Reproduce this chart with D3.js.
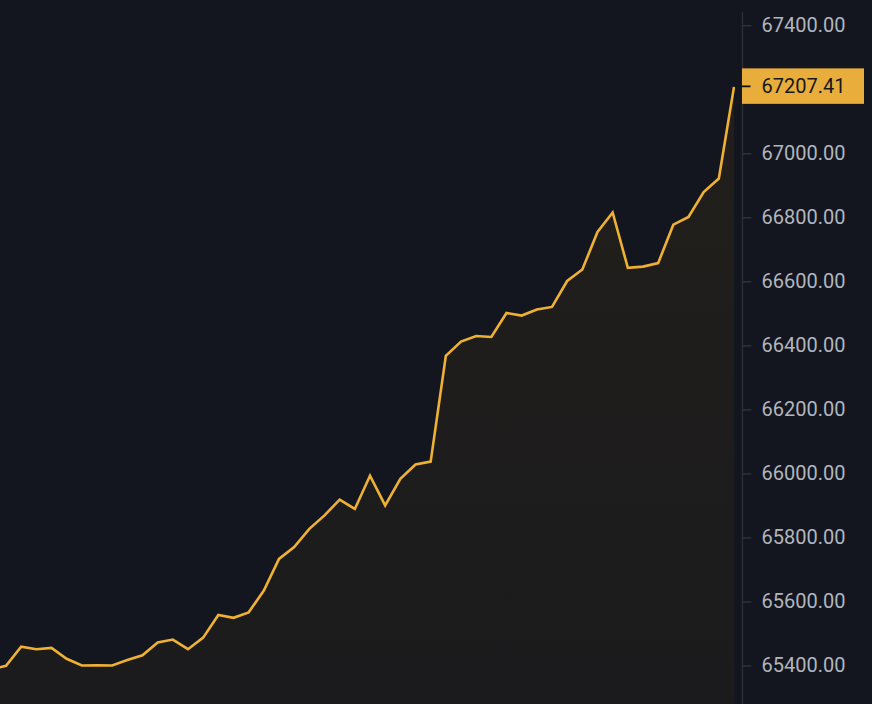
<!DOCTYPE html>
<html>
<head>
<meta charset="utf-8">
<script src="https://cdn.jsdelivr.net/npm/d3@7"></script>
<style>
  html, body { margin: 0; padding: 0; background: #13161f; overflow: hidden; }
  svg { display: block; }
</style>
</head>
<body>
<svg id="chart" width="872" height="704"></svg>
<script>
// Price series (one point per interval)
const prices = [65388, 65399, 65459, 65451, 65455, 65421, 65400, 65401, 65400, 65417,
  65432, 65472, 65481, 65451, 65487, 65558, 65549, 65566, 65634, 65733,
  65770, 65827, 65869, 65918, 65889, 65993, 65900, 65983, 66028, 66037,
  66367, 66412, 66429, 66426, 66501, 66493, 66512, 66520, 66601, 66637,
  66754, 66815, 66642, 66646, 66657, 66777, 66801, 66879, 66921, 67207.41];
const yTicks = [65400, 65600, 65800, 66000, 66200, 66400, 66600, 66800, 67000, 67400];
const lastPrice = 67207.41;

const W = 872, H = 704;
const svg = d3.select("#chart");

const x = d3.scaleLinear().domain([0, prices.length - 1]).range([-9.17, 734]);
const y = d3.scaleLinear().domain([65400, 67400]).range([665.5, 25.2]);

const defs = svg.append("defs");
const grad = defs.append("linearGradient").attr("id", "fillGrad")
  .attr("x1", 0).attr("y1", 0).attr("x2", 0).attr("y2", 1);
grad.append("stop").attr("offset", "0%").attr("stop-color", "#221f1b");
grad.append("stop").attr("offset", "100%").attr("stop-color", "#1b1b1d");
defs.append("clipPath").attr("id", "plotClip")
  .append("rect").attr("x", 0).attr("y", 0).attr("width", 735).attr("height", H);

const plot = svg.append("g").attr("clip-path", "url(#plotClip)");

const area = d3.area()
  .x((d, i) => x(i))
  .y0(H)
  .y1(d => y(d));
const line = d3.line()
  .x((d, i) => x(i))
  .y(d => y(d));

plot.append("path").datum(prices)
  .attr("d", area)
  .attr("fill", "url(#fillGrad)");

plot.append("path").datum(prices)
  .attr("d", line)
  .attr("fill", "none")
  .attr("stroke", "#efb134")
  .attr("stroke-width", 2.6)
  .attr("stroke-linejoin", "miter");

// Right axis
const axisX = 742.5;
svg.append("line")
  .attr("x1", axisX).attr("x2", axisX)
  .attr("y1", 12).attr("y2", H)
  .attr("stroke", "#2a2e39").attr("stroke-width", 1.5);

const axis = d3.axisRight(y)
  .tickValues(yTicks)
  .tickFormat(d3.format(".2f"))
  .tickSize(9)
  .tickPadding(10);

const ag = svg.append("g").attr("transform", `translate(${axisX},0)`).call(axis);
ag.select(".domain").remove();
ag.selectAll(".tick line").attr("stroke", "#2e323d").attr("stroke-width", 1.5);
ag.selectAll(".tick text")
  .attr("fill", "#b1b6be")
  .style("font-family", "Roboto, 'Noto Sans', sans-serif")
  .style("font-size", "20px");

// Last price label
const ly = y(lastPrice);
const lbl = svg.append("g");
lbl.append("rect")
  .attr("x", axisX - 0.5).attr("y", ly - 18.5)
  .attr("width", 122).attr("height", 35.5)
  .attr("fill", "#e9ad3b");
lbl.append("line")
  .attr("x1", axisX - 0.5).attr("x2", axisX + 8)
  .attr("y1", ly - 0.5).attr("y2", ly - 0.5)
  .attr("stroke", "#111318").attr("stroke-width", 1.8);
lbl.append("text")
  .attr("x", axisX + 19).attr("y", ly)
  .attr("dy", "0.32em")
  .attr("fill", "#16181d")
  .style("font-family", "Roboto, 'Noto Sans', sans-serif")
  .style("font-size", "20px")
  .text(d3.format(".2f")(lastPrice));
</script>
</body>
</html>
